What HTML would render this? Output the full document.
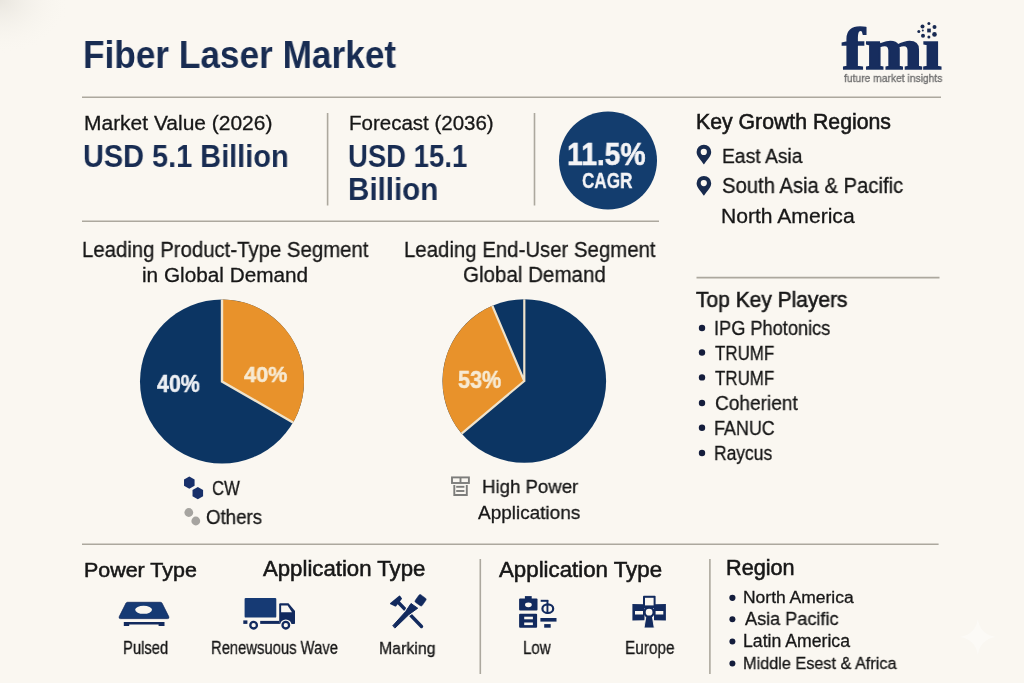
<!DOCTYPE html>
<html><head><meta charset="utf-8">
<style>
html,body{margin:0;padding:0;}
body{width:1024px;height:683px;overflow:hidden;position:relative;background:#faf7f1;}
#bg{position:absolute;left:0;top:0;width:1024px;height:683px;}

.t{position:absolute;white-space:nowrap;transform-origin:0 0;will-change:transform;}
</style></head><body>
<svg id="bg" width="1024" height="683" viewBox="0 0 1024 683">
<defs>
<radialGradient id="vig" cx="0" cy="0" r="1" gradientUnits="userSpaceOnUse" gradientTransform="translate(0 0) scale(70 55)">
<stop offset="0" stop-color="#e9e6df" stop-opacity="1"/><stop offset="1" stop-color="#faf7f1" stop-opacity="0"/>
</radialGradient>
</defs>
<rect width="1024" height="683" fill="#faf7f1"/>
<rect width="120" height="100" fill="url(#vig)"/>
<g stroke="#aca89e" stroke-width="1.6" fill="none">
<line x1="82" y1="97.3" x2="941" y2="97.3"/>
<line x1="82" y1="221.3" x2="659" y2="221.3"/>
<line x1="696.5" y1="277.6" x2="939.5" y2="277.6"/>
<line x1="82" y1="544.2" x2="938.6" y2="544.2"/>
<line x1="327.6" y1="113" x2="327.6" y2="205.5"/>
<line x1="534.5" y1="113" x2="534.5" y2="205.5"/>
<line x1="480.3" y1="559" x2="480.3" y2="674"/>
<line x1="709.9" y1="559" x2="709.9" y2="674"/>
</g>
<circle cx="608" cy="160.5" r="49" fill="#133d6e"/>
<!-- pins -->
<g fill="#172a4d">
<path d="M703.9 164.6 C701 160 696.6 156.5 696.6 152 A7.3 7.3 0 0 1 711.2 152 C711.2 156.5 706.8 160 703.9 164.6Z"/>
<path d="M703.9 195.8 C701 191.2 696.6 187.7 696.6 183.2 A7.3 7.3 0 0 1 711.2 183.2 C711.2 187.7 706.8 191.2 703.9 195.8Z"/>
</g>
<circle cx="703.8" cy="151.9" r="3.1" fill="#faf7f1"/>
<circle cx="703.8" cy="183.1" r="3.1" fill="#faf7f1"/>
<!-- pie1 -->
<circle cx="222" cy="381.5" r="82" fill="#0c3563"/>
<path d="M222 381.5 L222 299.5 A82 82 0 0 1 293.01 422.5 Z" fill="#e8922b"/>
<path d="M222 299.5 L222 381.5 L293.01 422.5" stroke="#efe3cc" stroke-width="2.4" fill="none"/>
<!-- pie2 -->
<circle cx="524.3" cy="381" r="81.8" fill="#0c3563"/>
<path d="M524.3 381 L461.64 433.58 A81.8 81.8 0 0 1 492.34 305.70 Z" fill="#e8922b"/>
<path d="M524.3 299.2 L524.3 381 M461.64 433.58 L524.3 381 L492.34 305.70" stroke="#efe3cc" stroke-width="2.2" fill="none"/>
<!-- CW hexes -->
<g fill="#18306a">
<polygon points="189.30,476.50 194.58,479.55 194.58,485.65 189.30,488.70 184.02,485.65 184.02,479.55"/>
<polygon points="197.80,487.00 203.08,490.05 203.08,496.15 197.80,499.20 192.52,496.15 192.52,490.05"/>
</g>
<g fill="#a6a4a0">
<circle cx="188.8" cy="512.5" r="4.4"/>
<circle cx="195.8" cy="521" r="4.4"/>
</g>
<!-- high power icon -->
<g stroke="#7d7d7b" stroke-width="1.9" fill="none">
<rect x="452" y="477.4" width="16.9" height="5.6"/>
<line x1="460.5" y1="477.4" x2="460.5" y2="483"/>
<path d="M454.3 485 V495 H466.8 V485"/>
<line x1="456.2" y1="486.8" x2="464.4" y2="486.8"/>
<line x1="456.2" y1="491" x2="464.4" y2="491"/>
</g>
<!-- bullets -->
<g fill="#141d3c">
<circle cx="702" cy="328" r="3.2"/>
<circle cx="702" cy="352.5" r="3.2"/>
<circle cx="702" cy="377.4" r="3.2"/>
<circle cx="702" cy="403" r="3.2"/>
<circle cx="702" cy="427.8" r="3.2"/>
<circle cx="702" cy="453" r="3.2"/>
<circle cx="732.4" cy="597.8" r="3.1"/>
<circle cx="732.4" cy="619.3" r="3"/>
<circle cx="732.4" cy="641.6" r="3"/>
<circle cx="732.4" cy="663.5" r="3"/>
</g>
<!-- pulsed icon -->
<g fill="#122a5e">
<path fill="#163a74" stroke="#122a5e" stroke-width="0.8" d="M127.5 602.3 H160.3 Q161.4 602.3 162 603.2 L168.7 616.6 Q169.5 618.6 167.5 618.6 H120.5 Q118.5 618.6 119.3 616.6 L126 603.2 Q126.6 602.3 127.5 602.3Z"/>
<path d="M123.8 622 H164.5 V626 H158.6 V624.4 H129.2 V626 H123.8Z"/>
</g>
<ellipse cx="143.6" cy="609.8" rx="8.4" ry="4" fill="#faf7f1"/>
<!-- truck -->
<g fill="#122a5e">
<rect x="244.6" y="597.9" width="31.7" height="19.7" rx="1.2" fill="#163a74"/>
<path d="M279.2 604.2 Q279.2 603.2 280.2 603.2 H288.5 L295 611 V623.2 Q295 624 294.2 624 H279.2Z"/>
<rect x="260.2" y="620.9" width="19" height="3"/>
<rect x="243.3" y="620.4" width="4.1" height="3.5"/>
</g>
<path d="M281.1 605.4 H287.6 L292 612.3 H281.1Z" fill="#faf7f1"/>
<circle cx="253.6" cy="625.2" r="5.8" fill="#faf7f1"/>
<circle cx="285.8" cy="625.2" r="5.8" fill="#faf7f1"/>
<circle cx="253.6" cy="625.2" r="3.3" fill="none" stroke="#122a5e" stroke-width="2.3"/>
<circle cx="285.8" cy="625.2" r="3.3" fill="none" stroke="#122a5e" stroke-width="2.3"/>
<!-- marking -->
<g fill="#122a5e" stroke="#122a5e" stroke-linecap="round" stroke-linejoin="round">
<path d="M390.8 603.6 L399.6 596.4 L401.2 598.6 L395.5 605.8 Z" stroke-width="1.6"/>
<line x1="397.5" y1="601.5" x2="421.5" y2="626.5" stroke-width="3.4"/>
</g>
<path d="M392.95 625.59 L405.62 611.57 L411 603.5 L417.7 608.2 L408.78 614.63 L395.25 627.81 Z" fill="#faf7f1" stroke="#faf7f1" stroke-width="3" stroke-linejoin="round"/>
<g fill="#122a5e" stroke="#122a5e" stroke-linecap="round" stroke-linejoin="round">
<path d="M392.95 625.59 L405.62 611.57 L411 603.5 L417.7 608.2 L408.78 614.63 L395.25 627.81 Z" stroke-width="1"/>
<rect x="-4.3" y="-4.6" width="8.6" height="9.2" rx="1.5" transform="translate(420.6 600.3) rotate(35)" stroke-width="0.5"/>
</g>
<!-- low icon -->
<g fill="#122a5e">
<rect x="519.1" y="598.4" width="18.4" height="12.2" rx="1"/>
<rect x="524.9" y="596.1" width="6.8" height="3"/>
<rect x="519.1" y="613.8" width="18" height="13.9" rx="1"/>
<rect x="540.7" y="599.8" width="7.5" height="2"/>
<rect x="546.5" y="600" width="1.9" height="14"/>
<rect x="540.4" y="618" width="16.1" height="3.6"/>
<rect x="544.2" y="624.1" width="6.5" height="3.6"/>
</g>
<ellipse cx="547.8" cy="608.7" rx="5.4" ry="4.3" fill="none" stroke="#122a5e" stroke-width="2.2"/>
<g fill="#faf7f1">
<ellipse cx="528.4" cy="604.8" rx="3.4" ry="2.4"/>
<rect x="524.2" y="616.7" width="8.7" height="2.6"/>
<rect x="524.2" y="622.5" width="8.7" height="2.6"/>
</g>
<!-- europe icon -->
<g fill="#122a5e">
<rect x="643" y="595.8" width="12.6" height="11.6" rx="0.8"/>
<path d="M632.4 603.9 L644.5 604.3 V620.3 L632.4 620.6Z"/>
<path d="M665.9 603.9 L654 604.3 V620.3 L665.9 620.6Z"/>
<rect x="644" y="604" width="10.5" height="4"/>
</g>
<g fill="#faf7f1">
<rect x="645" y="597.8" width="8.6" height="7.6"/>
<rect x="635" y="611" width="8" height="3.5"/>
<rect x="655.6" y="611" width="7.7" height="3.5"/>
</g>
<path d="M645.9 616.5 H652.4 L654.3 628 H644Z" fill="#122a5e" stroke="#faf7f1" stroke-width="0.9"/>
<circle cx="649.1" cy="612.2" r="4.6" fill="#faf7f1" stroke="#122a5e" stroke-width="2.4"/>
<!-- logo dots -->
<g fill="#182a52">
<rect x="927.2" y="28.6" width="3.6" height="3.8"/>
<circle cx="928.9" cy="23.6" r="1.5"/>
<circle cx="922.5" cy="26.4" r="2"/>
<circle cx="934.5" cy="27.1" r="2"/>
<circle cx="918.8" cy="31.6" r="1.5"/>
<circle cx="922.8" cy="30.4" r="1"/>
<circle cx="923" cy="35.8" r="2"/>
<circle cx="928.9" cy="37" r="1.5"/>
<circle cx="934.5" cy="34.4" r="2.3"/>
</g>
<!-- sparkle -->
<path d="M977.8 619 Q980 634.5 995.8 636.9 Q980 639.3 977.8 655 Q975.6 639.3 959.8 636.9 Q975.6 634.5 977.8 619Z" fill="#ffffff" opacity="0.4"/>
</svg>

<div class="t" style="left:83.44px;top:36.33px;font:bold 38.00px/1 'Liberation Sans',sans-serif;color:#182c52;transform:scaleX(0.9265);">Fiber Laser Market</div>
<div class="t" style="left:83.58px;top:112.74px;font:normal 20.50px/1 'Liberation Sans',sans-serif;color:#171717;transform:scaleX(1.0228);-webkit-text-stroke:0.3px #171717">Market Value (2026)</div>
<div class="t" style="left:83.07px;top:139.79px;font:bold 32.25px/1 'Liberation Sans',sans-serif;color:#182c52;transform:scaleX(0.8965);">USD 5.1 Billion</div>
<div class="t" style="left:348.82px;top:112.74px;font:normal 20.50px/1 'Liberation Sans',sans-serif;color:#171717;transform:scaleX(0.9975);-webkit-text-stroke:0.3px #171717">Forecast (2036)</div>
<div class="t" style="left:347.65px;top:140.72px;font:bold 31.75px/1 'Liberation Sans',sans-serif;color:#182c52;transform:scaleX(0.8662);">USD 15.1</div>
<div class="t" style="left:347.72px;top:174.25px;font:bold 31.00px/1 'Liberation Sans',sans-serif;color:#182c52;transform:scaleX(0.9536);">Billion</div>
<div class="t" style="left:566.52px;top:137.99px;font:bold 32.25px/1 'Liberation Sans',sans-serif;color:#f4f4f6;transform:scaleX(0.8757);-webkit-text-stroke:0.6px #f4f4f6">11.5%</div>
<div class="t" style="left:581.90px;top:171.01px;font:bold 21.25px/1 'Liberation Sans',sans-serif;color:#f4f4f6;transform:scaleX(0.8050);-webkit-text-stroke:0.4px #f4f4f6">CAGR</div>
<div class="t" style="left:696.06px;top:112.21px;font:normal 21.25px/1 'Liberation Sans',sans-serif;color:#171717;transform:scaleX(1.0006);-webkit-text-stroke:0.55px #171717">Key Growth Regions</div>
<div class="t" style="left:721.52px;top:145.73px;font:normal 20.75px/1 'Liberation Sans',sans-serif;color:#171717;transform:scaleX(0.9304);-webkit-text-stroke:0.3px #171717">East Asia</div>
<div class="t" style="left:721.59px;top:175.51px;font:normal 21.25px/1 'Liberation Sans',sans-serif;color:#171717;transform:scaleX(0.9530);-webkit-text-stroke:0.3px #171717">South Asia &amp; Pacific</div>
<div class="t" style="left:721.17px;top:206.14px;font:normal 20.50px/1 'Liberation Sans',sans-serif;color:#171717;transform:scaleX(1.0290);-webkit-text-stroke:0.3px #171717">North America</div>
<div class="t" style="left:82.33px;top:238.57px;font:normal 22.00px/1 'Liberation Sans',sans-serif;color:#171717;transform:scaleX(0.9259);-webkit-text-stroke:0.3px #171717">Leading Product-Type Segment</div>
<div class="t" style="left:142.11px;top:265.33px;font:normal 20.75px/1 'Liberation Sans',sans-serif;color:#171717;transform:scaleX(0.9972);-webkit-text-stroke:0.3px #171717">in Global Demand</div>
<div class="t" style="left:403.63px;top:238.78px;font:normal 21.75px/1 'Liberation Sans',sans-serif;color:#171717;transform:scaleX(0.9374);-webkit-text-stroke:0.3px #171717">Leading End-User Segment</div>
<div class="t" style="left:462.57px;top:264.48px;font:normal 21.75px/1 'Liberation Sans',sans-serif;color:#171717;transform:scaleX(0.9452);-webkit-text-stroke:0.3px #171717">Global Demand</div>
<div class="t" style="left:156.98px;top:372.61px;font:bold 23.25px/1 'Liberation Sans',sans-serif;color:#eef0f4;transform:scaleX(0.9217);-webkit-text-stroke:0.5px #eef0f4">40%</div>
<div class="t" style="left:244.47px;top:362.64px;font:bold 22.75px/1 'Liberation Sans',sans-serif;color:#f7ead2;transform:scaleX(0.9531);-webkit-text-stroke:0.5px #f7ead2">40%</div>
<div class="t" style="left:458.13px;top:368.61px;font:bold 23.25px/1 'Liberation Sans',sans-serif;color:#f7ead2;transform:scaleX(0.9315);-webkit-text-stroke:0.5px #f7ead2">53%</div>
<div class="t" style="left:212.25px;top:477.84px;font:normal 20.50px/1 'Liberation Sans',sans-serif;color:#171717;transform:scaleX(0.8145);-webkit-text-stroke:0.3px #171717">CW</div>
<div class="t" style="left:206.32px;top:507.99px;font:normal 19.50px/1 'Liberation Sans',sans-serif;color:#171717;transform:scaleX(0.9578);-webkit-text-stroke:0.3px #171717">Others</div>
<div class="t" style="left:482.17px;top:477.00px;font:normal 19.25px/1 'Liberation Sans',sans-serif;color:#171717;transform:scaleX(0.9670);-webkit-text-stroke:0.3px #171717">High Power</div>
<div class="t" style="left:477.76px;top:503.21px;font:normal 19.00px/1 'Liberation Sans',sans-serif;color:#171717;transform:scaleX(0.9978);-webkit-text-stroke:0.3px #171717">Applications</div>
<div class="t" style="left:696.04px;top:289.90px;font:normal 21.50px/1 'Liberation Sans',sans-serif;color:#171717;transform:scaleX(0.9753);-webkit-text-stroke:0.55px #171717">Top Key Players</div>
<div class="t" style="left:714.03px;top:318.37px;font:normal 20.00px/1 'Liberation Sans',sans-serif;color:#171717;transform:scaleX(0.9100);-webkit-text-stroke:0.3px #171717">IPG Photonics</div>
<div class="t" style="left:715.33px;top:342.87px;font:normal 20.00px/1 'Liberation Sans',sans-serif;color:#171717;transform:scaleX(0.8467);-webkit-text-stroke:0.3px #171717">TRUMF</div>
<div class="t" style="left:715.33px;top:367.77px;font:normal 20.00px/1 'Liberation Sans',sans-serif;color:#171717;transform:scaleX(0.8467);-webkit-text-stroke:0.3px #171717">TRUMF</div>
<div class="t" style="left:714.73px;top:393.37px;font:normal 20.00px/1 'Liberation Sans',sans-serif;color:#171717;transform:scaleX(0.9537);-webkit-text-stroke:0.3px #171717">Coherient</div>
<div class="t" style="left:714.23px;top:418.17px;font:normal 20.00px/1 'Liberation Sans',sans-serif;color:#171717;transform:scaleX(0.8963);-webkit-text-stroke:0.3px #171717">FANUC</div>
<div class="t" style="left:714.27px;top:443.37px;font:normal 20.00px/1 'Liberation Sans',sans-serif;color:#171717;transform:scaleX(0.8722);-webkit-text-stroke:0.3px #171717">Raycus</div>
<div class="t" style="left:84.14px;top:559.32px;font:normal 21.00px/1 'Liberation Sans',sans-serif;color:#171717;transform:scaleX(1.0208);-webkit-text-stroke:0.55px #171717">Power Type</div>
<div class="t" style="left:263.26px;top:559.31px;font:normal 21.25px/1 'Liberation Sans',sans-serif;color:#171717;transform:scaleX(1.0435);-webkit-text-stroke:0.55px #171717">Application Type</div>
<div class="t" style="left:122.89px;top:639.68px;font:normal 17.50px/1 'Liberation Sans',sans-serif;color:#171717;transform:scaleX(0.8441);-webkit-text-stroke:0.3px #171717">Pulsed</div>
<div class="t" style="left:211.09px;top:639.68px;font:normal 17.50px/1 'Liberation Sans',sans-serif;color:#171717;transform:scaleX(0.8451);-webkit-text-stroke:0.3px #171717">Renewsuous Wave</div>
<div class="t" style="left:378.80px;top:639.89px;font:normal 17.25px/1 'Liberation Sans',sans-serif;color:#171717;transform:scaleX(0.9211);-webkit-text-stroke:0.3px #171717">Marking</div>
<div class="t" style="left:499.26px;top:558.67px;font:normal 22.00px/1 'Liberation Sans',sans-serif;color:#171717;transform:scaleX(1.0123);-webkit-text-stroke:0.55px #171717">Application Type</div>
<div class="t" style="left:522.67px;top:639.78px;font:normal 17.50px/1 'Liberation Sans',sans-serif;color:#171717;transform:scaleX(0.8596);-webkit-text-stroke:0.3px #171717">Low</div>
<div class="t" style="left:624.84px;top:639.36px;font:normal 18.00px/1 'Liberation Sans',sans-serif;color:#171717;transform:scaleX(0.8536);-webkit-text-stroke:0.3px #171717">Europe</div>
<div class="t" style="left:726.33px;top:558.11px;font:normal 21.25px/1 'Liberation Sans',sans-serif;color:#171717;transform:scaleX(1.0184);-webkit-text-stroke:0.55px #171717">Region</div>
<div class="t" style="left:743.27px;top:588.59px;font:normal 17.25px/1 'Liberation Sans',sans-serif;color:#171717;transform:scaleX(1.0124);-webkit-text-stroke:0.3px #171717">North America</div>
<div class="t" style="left:744.66px;top:610.05px;font:normal 18.25px/1 'Liberation Sans',sans-serif;color:#171717;transform:scaleX(0.9914);-webkit-text-stroke:0.3px #171717">Asia Pacific</div>
<div class="t" style="left:743.25px;top:633.28px;font:normal 17.50px/1 'Liberation Sans',sans-serif;color:#171717;transform:scaleX(1.0088);-webkit-text-stroke:0.3px #171717">Latin America</div>
<div class="t" style="left:743.37px;top:655.62px;font:normal 16.75px/1 'Liberation Sans',sans-serif;color:#171717;transform:scaleX(0.9702);-webkit-text-stroke:0.3px #171717">Middle Esest &amp; Africa</div>
<div class="t" style="left:842.42px;top:20.82px;font:bold 58.25px/1 'Liberation Serif',serif;color:#172d5e;transform:scaleX(1.1843);-webkit-text-stroke:1.5px #172d5e">fmı</div>
<div class="t" style="left:844.26px;top:73.46px;font:normal 11.50px/1 'Liberation Sans',sans-serif;color:#717171;transform:scaleX(0.8943);-webkit-text-stroke:0.35px #717171">future market insights</div>

</body></html>
